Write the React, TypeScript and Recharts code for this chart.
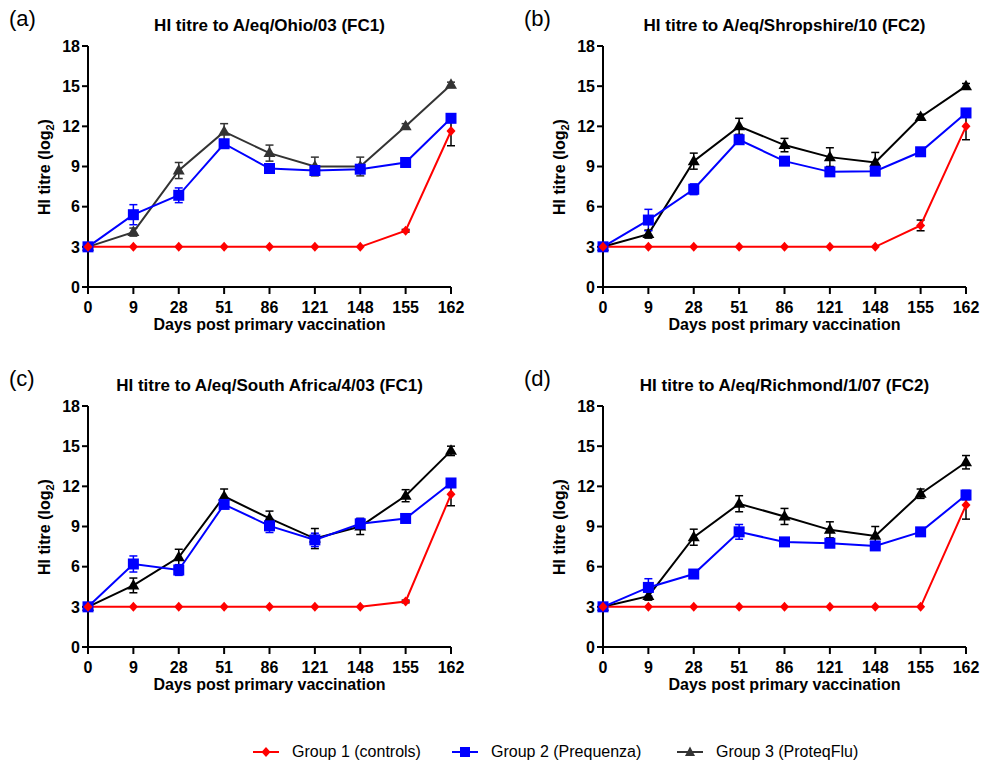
import React from 'react';
import { LineChart, Line, XAxis, YAxis, ErrorBar } from 'recharts';

const DAYS = ['0', '9', '28', '51', '86', '121', '148', '155', '162'];
const Y_TICKS = [0, 3, 6, 9, 12, 15, 18];

// (a) Ohio/03
const A_G1 = [3, 3, 3, 3, 3, 3, 3, 4.2, 11.65];
const A_E1 = [0, 0, 0, 0, 0, 0, 0, 0.1, 1.1];
const A_G2 = [3, 5.4, 6.85, 10.7, 8.85, 8.7, 8.8, 9.3, 12.6];
const A_E2 = [0, 0.75, 0.55, 0.3, 0.3, 0.3, 0.3, 0.15, 0.3];
const A_G3 = [3, 4.1, 8.7, 11.6, 10.0, 9.0, 9.0, 12.0, 15.1];
const A_E3 = [0, 0.3, 0.6, 0.6, 0.6, 0.7, 0.7, 0.2, 0.2];

// (b) Shropshire/10
const B_G1 = [3, 3, 3, 3, 3, 3, 3, 4.6, 12.0];
const B_E1 = [0, 0, 0, 0, 0, 0, 0, 0.4, 1.0];
const B_G2 = [3, 5.0, 7.3, 11.0, 9.4, 8.6, 8.65, 10.1, 13.0];
const B_E2 = [0, 0.8, 0.4, 0.3, 0.3, 0.3, 0.3, 0.2, 0.3];
const B_G3 = [3, 3.95, 9.4, 12.0, 10.6, 9.7, 9.3, 12.7, 15.0];
const B_E3 = [0, 0.3, 0.6, 0.6, 0.5, 0.7, 0.75, 0.2, 0.2];

// (c) South Africa/4/03
const C_G1 = [3, 3, 3, 3, 3, 3, 3, 3.4, 11.4];
const C_E1 = [0, 0, 0, 0, 0, 0, 0, 0.1, 0.85];
const C_G2 = [3, 6.2, 5.75, 10.65, 9.05, 8.0, 9.2, 9.6, 12.25];
const C_E2 = [0, 0.6, 0.4, 0.3, 0.5, 0.5, 0.4, 0.2, 0.3];
const C_G3 = [3, 4.6, 6.7, 11.25, 9.6, 8.1, 9.0, 11.3, 14.65];
const C_E3 = [0, 0.55, 0.6, 0.55, 0.55, 0.75, 0.6, 0.45, 0.35];

// (d) Richmond/1/07
const D_G1 = [3, 3, 3, 3, 3, 3, 3, 3, 10.6];
const D_E1 = [0, 0, 0, 0, 0, 0, 0, 0, 1.05];
const D_G2 = [3, 4.45, 5.45, 8.6, 7.85, 7.75, 7.55, 8.6, 11.35];
const D_E2 = [0, 0.65, 0.3, 0.55, 0.3, 0.3, 0.3, 0.2, 0.35];
const D_G3 = [3, 3.8, 8.2, 10.7, 9.75, 8.75, 8.3, 11.45, 13.8];
const D_E3 = [0, 0.3, 0.6, 0.6, 0.6, 0.6, 0.7, 0.35, 0.5];

const RED = '#ff0000';
const BLUE = '#0000ff';
const FONT = '"Liberation Sans", Arial, sans-serif';

const buildRows = (g1: number[], e1: number[], g2: number[], e2: number[], g3: number[], e3: number[]) =>
  DAYS.map((day, i) => ({ day, g1: g1[i], e1: e1[i], g2: g2[i], e2: e2[i], g3: g3[i], e3: e3[i] }));

const diamond = (p: any) => (
  <path
    key={`dia-${p.index}`}
    d={`M${p.cx},${p.cy - 5} L${p.cx + 4.5},${p.cy} L${p.cx},${p.cy + 5} L${p.cx - 4.5},${p.cy} Z`}
    fill={RED}
  />
);

const square = (p: any) => (
  <rect key={`sq-${p.index}`} x={p.cx - 5.5} y={p.cy - 5.5} width={11} height={11} fill={BLUE} />
);

const triangle = (color: string) => (p: any) => (
  <path
    key={`tri-${p.index}`}
    d={`M${p.cx},${p.cy - 6.5} L${p.cx + 6},${p.cy + 4} L${p.cx - 6},${p.cy + 4} Z`}
    fill={color}
  />
);

const tickStyle = { fill: '#000', fontSize: 16, fontWeight: 'bold', fontFamily: FONT };

interface PanelProps {
  left: number;
  top: number;
  letter: string;
  title: string;
  rows: any[];
  g3Color: string;
}

const Panel: React.FC<PanelProps> = ({ left, top, letter, title, rows, g3Color }) => {
  const plotLeft = 88;
  const plotRight = 451;
  return (
    <div style={{ position: 'absolute', left, top, width: 480, height: 345 }}>
      <div style={{ position: 'absolute', left: 9, top: 6, fontSize: 22, fontFamily: FONT }}>({letter})</div>
      <div
        style={{
          position: 'absolute',
          left: plotLeft - 80,
          width: plotRight - plotLeft + 160,
          top: 16,
          lineHeight: '20px',
          textAlign: 'center',
          fontSize: 17,
          fontWeight: 'bold',
          fontFamily: FONT,
          whiteSpace: 'nowrap',
        }}
      >
        {title}
      </div>
      <div
        style={{
          position: 'absolute',
          left: 45 - 80,
          top: 167 - 11,
          width: 160,
          height: 22,
          lineHeight: '22px',
          textAlign: 'center',
          transform: 'rotate(-90deg)',
          fontSize: 16,
          fontWeight: 'bold',
          fontFamily: FONT,
          whiteSpace: 'nowrap',
        }}
      >
        HI titre (log<sub style={{ fontSize: 11 }}>2</sub>)
      </div>
      <div
        style={{
          position: 'absolute',
          left: plotLeft - 40,
          width: plotRight - plotLeft + 80,
          top: 316,
          lineHeight: '18px',
          textAlign: 'center',
          fontSize: 16,
          fontWeight: 'bold',
          fontFamily: FONT,
        }}
      >
        Days post primary vaccination
      </div>
      <LineChart
        width={480}
        height={330}
        data={rows}
        margin={{ top: 46, right: 29, left: 38, bottom: 13 }}
        style={{ position: 'absolute', left: 0, top: 0 }}
      >
        <XAxis
          dataKey="day"
          interval={0}
          height={30}
          tickSize={7}
          tickMargin={8}
          tick={tickStyle}
          axisLine={{ stroke: '#000', strokeWidth: 2 }}
          tickLine={{ stroke: '#000', strokeWidth: 2 }}
        />
        <YAxis
          domain={[0, 18]}
          ticks={Y_TICKS}
          width={50}
          tickSize={6}
          tickMargin={2}
          tick={tickStyle}
          axisLine={{ stroke: '#000', strokeWidth: 2 }}
          tickLine={{ stroke: '#000', strokeWidth: 2 }}
        />
        <Line dataKey="g3" stroke={g3Color} strokeWidth={2} dot={triangle(g3Color)} isAnimationActive={false}>
          <ErrorBar dataKey="e3" width={4} strokeWidth={1.5} stroke={g3Color} direction="y" />
        </Line>
        <Line dataKey="g2" stroke={BLUE} strokeWidth={2} dot={square} isAnimationActive={false}>
          <ErrorBar dataKey="e2" width={4} strokeWidth={1.5} stroke={BLUE} direction="y" />
        </Line>
        <Line dataKey="g1" stroke={RED} strokeWidth={2} dot={diamond} isAnimationActive={false}>
          <ErrorBar dataKey="e1" width={4} strokeWidth={1.5} stroke="#000" direction="y" />
        </Line>
      </LineChart>
    </div>
  );
};

const LegendItem: React.FC<{ x: number; color: string; shape: string; label: string }> = ({ x, color, shape, label }) => (
  <div style={{ position: 'absolute', left: x, top: 743, display: 'flex', alignItems: 'center', fontFamily: FONT, fontSize: 16 }}>
    <svg width={26} height={14} style={{ marginRight: 13 }}>
      <line x1={0} y1={7} x2={26} y2={7} stroke={color} strokeWidth={2} />
      {shape === 'diamond' && <path d="M13,2 L17.5,7 L13,12 L8.5,7 Z" fill={color} />}
      {shape === 'square' && <rect x={8} y={2} width={10} height={10} fill={color} />}
      {shape === 'triangle' && <path d="M13,1.5 L18,11 L8,11 Z" fill={color} />}
    </svg>
    <span>{label}</span>
  </div>
);

export default function App() {
  return (
    <div style={{ position: 'relative', width: 982, height: 765, background: '#fff', overflow: 'hidden' }}>
      <style>{`body{margin:0}`}</style>
      <Panel left={0} top={0} letter="a" title="HI titre to A/eq/Ohio/03 (FC1)"
        rows={buildRows(A_G1, A_E1, A_G2, A_E2, A_G3, A_E3)} g3Color="#333333" />
      <Panel left={515} top={0} letter="b" title="HI titre to A/eq/Shropshire/10 (FC2)"
        rows={buildRows(B_G1, B_E1, B_G2, B_E2, B_G3, B_E3)} g3Color="#000000" />
      <Panel left={0} top={360} letter="c" title="HI titre to A/eq/South Africa/4/03 (FC1)"
        rows={buildRows(C_G1, C_E1, C_G2, C_E2, C_G3, C_E3)} g3Color="#000000" />
      <Panel left={515} top={360} letter="d" title="HI titre to A/eq/Richmond/1/07 (FC2)"
        rows={buildRows(D_G1, D_E1, D_G2, D_E2, D_G3, D_E3)} g3Color="#000000" />
      <LegendItem x={253} color={RED} shape="diamond" label="Group 1 (controls)" />
      <LegendItem x={452} color={BLUE} shape="square" label="Group 2 (Prequenza)" />
      <LegendItem x={677} color="#333333" shape="triangle" label="Group 3 (ProteqFlu)" />
    </div>
  );
}
